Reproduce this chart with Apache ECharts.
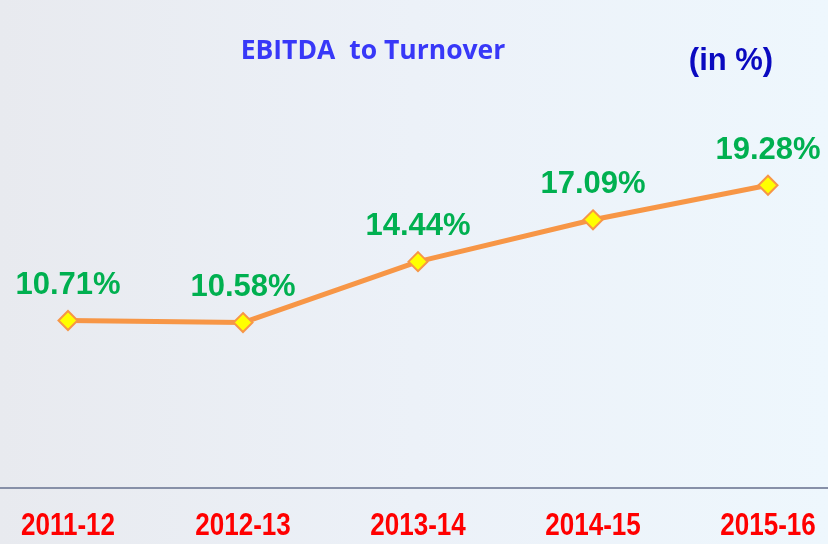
<!DOCTYPE html>
<html>
<head>
<meta charset="utf-8">
<script src="https://cdn.jsdelivr.net/npm/echarts@6/dist/echarts.min.js"></script>
<style>
  html, body { margin: 0; padding: 0; }
  #chart { width: 828px; height: 544px; }
</style>
</head>
<body>
<div id="chart"></div>
<script>
// years and EBITDA / turnover ratio (%)
var years = ['2011-12', '2012-13', '2013-14', '2014-15', '2015-16'];
var ratio = [10.71, 10.58, 14.44, 17.09, 19.28];

var chart = echarts.init(document.getElementById('chart'));

var option = {
  backgroundColor: {
    type: 'linear', x: 0, y: 0, x2: 1, y2: 0,
    colorStops: [
      { offset: 0, color: '#e8eaef' },
      { offset: 0.5, color: '#ecf1f8' },
      { offset: 1, color: '#eef7fd' }
    ]
  },
  title: [
    {
      text: 'EBITDA  to Turnover',
      left: 368, top: 33, textAlign: 'center',
      textStyle: { color: '#3838f8', fontSize: 26.5, fontWeight: 'bold', fontFamily: 'Open Sans, sans-serif' }
    },
    {
      text: '(in %)',
      left: 726, top: 41, textAlign: 'center',
      textStyle: { color: '#0a0ac0', fontSize: 31, fontWeight: 'bold', fontFamily: 'Liberation Sans, Arial, sans-serif' }
    }
  ],
  // bands of 175px so that the axis line runs across the whole picture
  grid: { left: -19.5, right: -27.5, top: 16, bottom: 56, outerBoundsMode: 'none' },
  xAxis: {
    type: 'category',
    data: years,
    boundaryGap: true,
    axisLine: { onZero: false, lineStyle: { color: '#8790a8', width: 2 } },
    axisTick: { show: false },
    axisLabel: { show: false }
  },
  yAxis: {
    type: 'value', min: 0.1, max: 30,
    show: false
  },
  series: [{
    type: 'line',
    data: ratio,
    symbol: 'diamond',
    symbolSize: 19,
    lineStyle: { color: '#f79646', width: 5 },
    itemStyle: { color: '#ffff00', borderColor: '#f79646', borderWidth: 2 },
    label: {
      show: true, position: 'top', distance: 9,
      formatter: function (p) { return p.value.toFixed(2) + '%'; },
      color: '#00b050', fontSize: 31, fontWeight: 'bold',
      fontFamily: 'Liberation Sans, Arial, sans-serif'
    },
    z: 3
  }, {
    // narrow red year labels under the axis
    type: 'custom',
    data: years.map(function (y, i) { return [i, 0]; }),
    renderItem: function (params, api) {
      var pt = api.coord([api.value(0), 0]);
      return {
        type: 'text',
        x: pt[0], y: pt[1] + 37,
        scaleX: 0.84,
        style: {
          text: years[api.value(0)],
          fill: '#ff0000',
          font: 'bold 31px "Liberation Sans", Arial, sans-serif',
          align: 'center', verticalAlign: 'middle'
        }
      };
    },
    silent: true
  }],
  animation: false
};

chart.setOption(option);
</script>
</body>
</html>
